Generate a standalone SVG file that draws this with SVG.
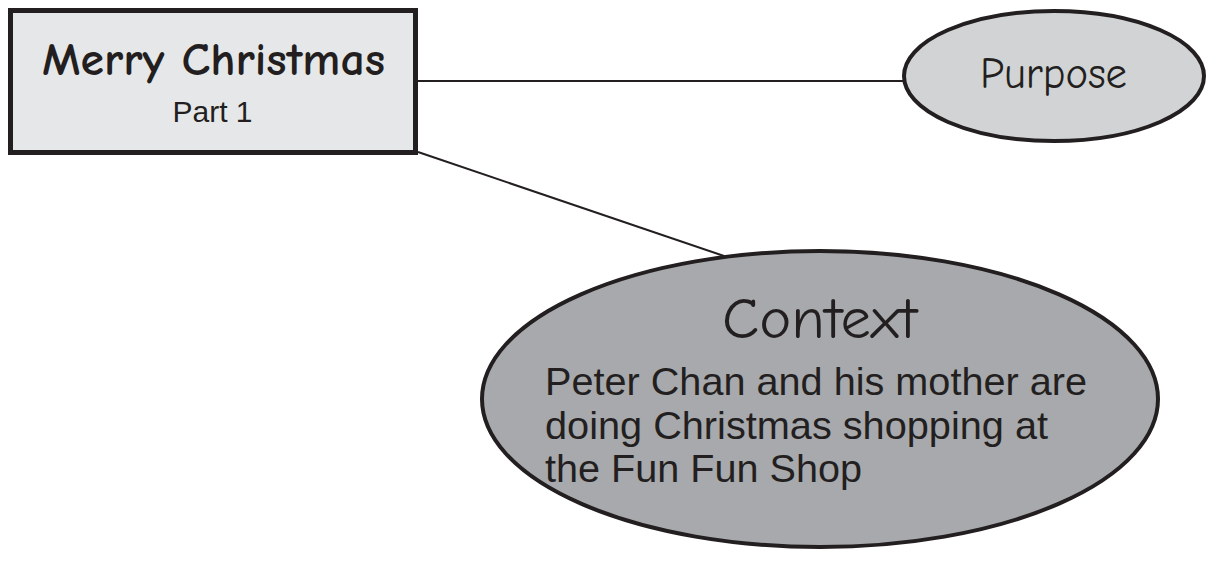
<svg xmlns="http://www.w3.org/2000/svg" width="1206" height="569" viewBox="0 0 1206 569">
<style>
.comic{font-family:"Comic Sans MS","Comic Neue","DejaVu Sans",sans-serif;fill:#231f20}
.sans{font-family:"Liberation Sans",Arial,sans-serif;fill:#231f20}
.edge{stroke:#231f20;stroke-width:2;fill:none}
.node{stroke:#231f20}
</style>
<rect width="1206" height="569" fill="#ffffff"/>
<g id="connectors">
<line class="edge" x1="418" y1="81" x2="904" y2="81"/>
<line class="edge" x1="418" y1="152" x2="724" y2="256"/>
</g>
<g id="node-merry">
<rect class="node" x="10.5" y="10.5" width="405" height="142" fill="#e6e7e8" stroke-width="5"/>
<text class="comic" x="213.5" y="75" text-anchor="middle" font-size="47" font-weight="bold" textLength="343" lengthAdjust="spacingAndGlyphs">Merry Christmas</text>
<text class="sans" x="212.5" y="122" text-anchor="middle" font-size="30">Part 1</text>
</g>
<g id="node-purpose">
<ellipse class="node" cx="1054" cy="76" rx="150" ry="65" fill="#d1d3d4" stroke-width="4"/>
<text class="comic" x="1053.5" y="88" text-anchor="middle" font-size="44" textLength="147" lengthAdjust="spacingAndGlyphs">Purpose</text>
</g>
<g id="node-context">
<ellipse class="node" cx="820" cy="399" rx="338" ry="148" fill="#a7a9ac" stroke-width="4"/>
<text class="comic" x="819.5" y="338" text-anchor="middle" font-size="59" textLength="195" lengthAdjust="spacingAndGlyphs">Context</text>
<text class="sans" font-size="38.5">
<tspan x="545" y="395" textLength="542" lengthAdjust="spacingAndGlyphs">Peter Chan and his mother are</tspan>
<tspan x="545" y="438.5" textLength="503" lengthAdjust="spacingAndGlyphs">doing Christmas shopping at</tspan>
<tspan x="545" y="482" textLength="317" lengthAdjust="spacingAndGlyphs">the Fun Fun Shop</tspan>
</text>
</g>
</svg>
